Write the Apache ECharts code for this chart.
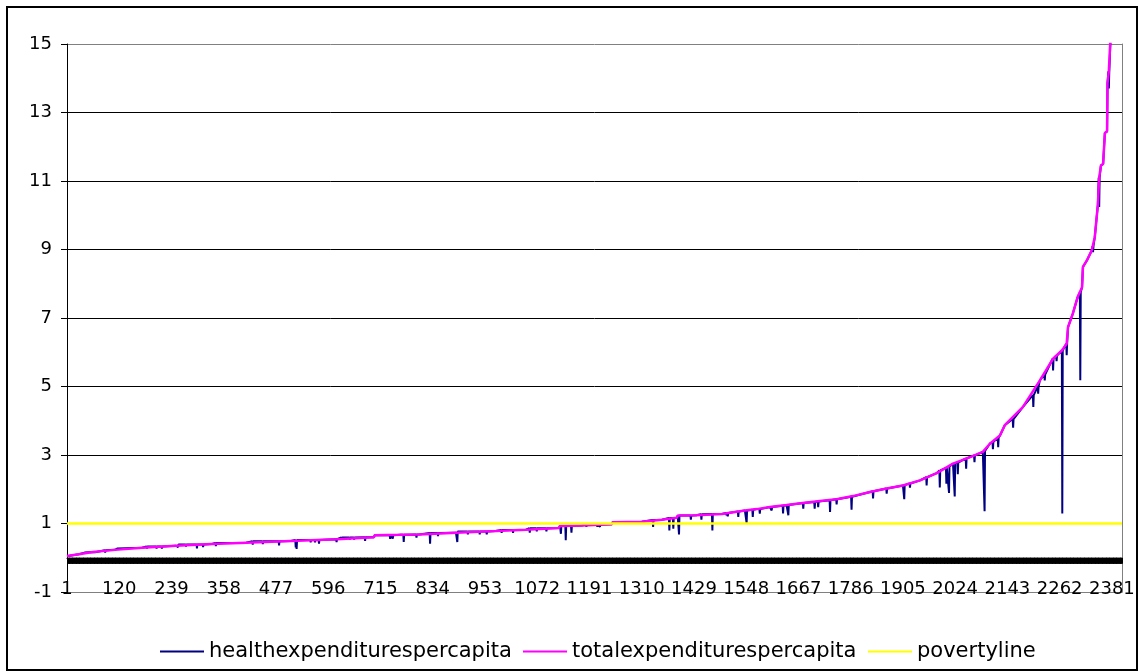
<!DOCTYPE html>
<html>
<head>
<meta charset="utf-8">
<script src="https://cdn.jsdelivr.net/npm/echarts@6/dist/echarts.min.js"></script>
<style>
html,body{margin:0;padding:0;background:#fff;}
#chart{width:1139px;height:672px;}
</style>
</head>
<body>
<div id="chart"></div>
<script>
// ---- data ----
const seriesNames = ['healthexpenditurespercapita', 'totalexpenditurespercapita', 'povertyline'];

// total expenditure per capita: breakpoints (observation index, value)
const totalIdx = [1,28,31,60,62,110,113,172,174,249,251,331,334,409,411,511,513,616,618,700,702,759,
  803,805,887,889,978,980,1046,1049,1121,1124,1174,1176,1242,1244,1310,1313,1356,1358,1390,1392,1434,1436,1493,1495,
  1545,1572,1602,1640,1677,1716,1754,1791,1830,1868,1905,1944,1982,2019,2058,2087,2103,2126,2137,2178,2217,2247,
  2267,2278,2281,2285,2292,2303,2313,2315,2324,2335,2342,2349,2352,2356,2361,2365,2370,2371,2374,2378,2379,2390,2404];
const totalVal = [0.05,0.10,0.15,0.17,0.21,0.23,0.27,0.29,0.33,0.35,0.39,0.40,0.43,0.44,0.48,0.49,0.52,0.54,0.59,0.60,0.66,0.67,
  0.68,0.72,0.73,0.77,0.78,0.81,0.82,0.86,0.87,0.93,0.94,0.97,0.98,1.04,1.05,1.10,1.11,1.16,1.17,1.23,1.24,1.27,1.28,1.31,
  1.38,1.42,1.48,1.54,1.60,1.66,1.71,1.80,1.92,2.02,2.11,2.26,2.47,2.75,2.94,3.09,3.33,3.57,3.87,4.40,5.18,5.81,
  6.05,6.25,6.73,6.78,7.13,7.61,7.90,8.49,8.68,8.97,9.36,10.30,11.10,11.45,11.50,12.40,12.45,13.85,14.20,14.25,15.50,17.00,20.00];

// health expenditure per capita: follows total, except at these observations where it drops
const dipIdx = [8,42,65,88,117,183,205,217,254,272,297,311,340,368,395,424,447,484,522,524,556,566,575,615,627,645,655,680,737,743,
  768,797,828,846,890,914,941,957,991,1017,1055,1071,1093,1126,1137,1150,1184,1209,1215,1336,1373,1382,1395,1422,1446,1471,
  1503,1506,1530,1549,1563,1579,1606,1632,1644,1678,1704,1712,1739,1754,1788,1837,1868,1908,1921,1959,1989,2004,2010,2023,
  2030,2049,2068,2091,2110,2122,2156,2202,2213,2228,2247,2255,2268,2278,2309,2338,2352,2374];
const dipTop = [0.06,0.15,0.21,0.22,0.27,0.33,0.33,0.33,0.39,0.39,0.39,0.39,0.43,0.43,0.43,0.48,0.48,0.48,0.52,0.52,0.52,0.52,0.52,0.54,0.59,0.59,0.59,0.60,0.66,0.66,
  0.67,0.68,0.72,0.72,0.77,0.77,0.77,0.77,0.81,0.81,0.86,0.86,0.86,0.93,0.93,0.93,0.97,0.97,0.97,1.10,1.16,1.16,1.23,1.23,1.27,1.28,
  1.31,1.31,1.35,1.38,1.40,1.42,1.48,1.52,1.54,1.60,1.63,1.64,1.68,1.71,1.78,1.94,2.02,2.12,2.17,2.35,2.55,2.62,2.66,2.76,
  2.78,2.90,2.99,3.12,3.38,3.50,4.05,4.75,5.00,5.35,5.81,5.90,6.05,6.25,7.75,9.10,11.10,14.20];
const dipLow = [0.02,0.10,0.16,0.15,0.22,0.27,0.27,0.27,0.31,0.33,0.27,0.31,0.34,0.38,0.38,0.38,0.40,0.36,0.30,0.26,0.45,0.45,0.41,0.46,0.53,0.53,0.53,0.49,0.55,0.56,
  0.46,0.59,0.41,0.63,0.46,0.68,0.68,0.68,0.73,0.73,0.73,0.77,0.77,0.70,0.51,0.73,0.90,0.90,0.90,0.90,0.80,0.85,0.68,1.11,1.11,0.80,
  1.24,1.21,1.19,1.01,1.19,1.29,1.38,1.29,1.24,1.43,1.43,1.48,1.34,1.56,1.40,1.73,1.87,1.71,2.05,2.11,2.05,2.16,1.89,1.79,
  2.44,2.60,2.79,1.36,3.17,3.23,3.80,4.40,4.79,5.18,5.47,5.74,1.29,5.91,5.18,8.92,10.24,13.70];

// poverty line
const povertyIdx = [1, 2404];
const povertyVal = [1, 1];

// axis labels
const xLabels = ['1','120','239','358','477','596','715','834','953','1072','1191','1310','1429','1548','1667','1786','1905','2024','2143','2262','2381'];
const yMin = -1, yMax = 15, yStep = 2;
const xMin = 1, xMax = 2404, xStep = 119;
// one category per observation (used only for the dense tick marks on the zero line)
const obsCategories = Array.from({length: xMax - xMin + 1}, (_, k) => String(xMin + k));

// ---- build series data ----
const totalData = totalIdx.map((x, k) => [x, totalVal[k]]);
const healthData = [];
totalIdx.forEach((x, k) => {
  const near = dipIdx.some(d => x >= d - 1 && x <= d + 1);
  if (!near) healthData.push([x, totalVal[k]]);
});
dipIdx.forEach((d, k) => {
  healthData.push([d - 1, dipTop[k]]);
  healthData.push([d, dipLow[k]]);
  healthData.push([d + 1, dipTop[k]]);
});
healthData.sort((a, b) => a[0] - b[0]);
const povertyData = povertyIdx.map((x, k) => [x, povertyVal[k]]);

const FONT = 'DejaVu Sans';
const chart = echarts.init(document.getElementById('chart'), null, {renderer: 'canvas'});
const legendBase = {
  orient: 'horizontal', top: 641, padding: 0, icon: 'rect', itemWidth: 44, itemHeight: 2,
  textStyle: {fontFamily: FONT, fontSize: 21, color: '#000'},
  selectedMode: false
};
chart.setOption({
  animation: false,
  backgroundColor: '#fff',
  graphic: [{
    type: 'rect', shape: {x: 7, y: 7, width: 1130, height: 663},
    style: {fill: 'none', stroke: '#000', lineWidth: 2}, z: 100
  }],
  legend: [
    Object.assign({}, legendBase, {left: 160, data: [seriesNames[0]]}),
    Object.assign({}, legendBase, {left: 523, data: [seriesNames[1]]}),
    Object.assign({}, legendBase, {left: 868, data: [seriesNames[2]]})
  ],
  grid: {left: 67, right: 17, top: 44, bottom: 80, containLabel: false},
  xAxis: [{
    // value axis the series are drawn on (invisible)
    type: 'value', min: xMin, max: xMax, interval: xStep, position: 'bottom',
    axisLine: {show: false}, axisTick: {show: false}, axisLabel: {show: false},
    splitLine: {show: false}
  }, {
    // bottom labels and plot border
    type: 'value', min: xMin, max: xMax, interval: xStep, position: 'bottom',
    axisLine: {show: true, onZero: false, lineStyle: {color: '#808080', width: 1}},
    axisTick: {show: false},
    axisLabel: {
      show: true, margin: -12, fontFamily: FONT, fontSize: 18, color: '#000',
      showMaxLabel: false,
      formatter: v => xLabels.indexOf(String(v)) >= 0 ? String(v) : ''
    },
    splitLine: {show: false}
  }, {
    // category axis on the zero line with one tick per observation
    type: 'category', data: obsCategories, boundaryGap: false, position: 'bottom',
    axisLine: {show: true, onZero: true, lineStyle: {color: '#000', width: 1}},
    axisTick: {show: true, interval: 0, length: 6, lineStyle: {color: '#000', width: 1}},
    axisLabel: {show: false}, splitLine: {show: false}
  }],
  yAxis: [{
    type: 'value', min: yMin, max: yMax, interval: yStep, position: 'left',
    axisLine: {show: true, onZero: false, lineStyle: {color: '#000', width: 1}},
    axisTick: {show: true, length: 6, lineStyle: {color: '#000'}},
    axisLabel: {margin: 15, fontFamily: FONT, fontSize: 18, color: '#000'},
    splitLine: {show: true, lineStyle: {color: ['#808080','#000','#000','#000','#000','#000','#000','#000','#808080'], width: 1}}
  }, {
    type: 'value', min: yMin, max: yMax, interval: yStep, position: 'right',
    axisLine: {show: true, onZero: false, lineStyle: {color: '#808080', width: 1}},
    axisTick: {show: false}, axisLabel: {show: false}, splitLine: {show: false}
  }],
  series: [{
    name: seriesNames[0], type: 'line', xAxisIndex: 0, yAxisIndex: 0,
    data: healthData, symbol: 'none', color: '#000080',
    lineStyle: {color: '#000080', width: 2, join: 'bevel'}, z: 2
  }, {
    name: seriesNames[1], type: 'line', xAxisIndex: 0, yAxisIndex: 0,
    data: totalData, symbol: 'none', color: '#FF00FF',
    lineStyle: {color: '#FF00FF', width: 2.5}, z: 3
  }, {
    name: seriesNames[2], type: 'line', xAxisIndex: 0, yAxisIndex: 0,
    data: povertyData, symbol: 'none', color: '#FFFF00',
    lineStyle: {color: '#FFFF00', width: 2.5}, z: 4
  }]
});
</script>
</body>
</html>
